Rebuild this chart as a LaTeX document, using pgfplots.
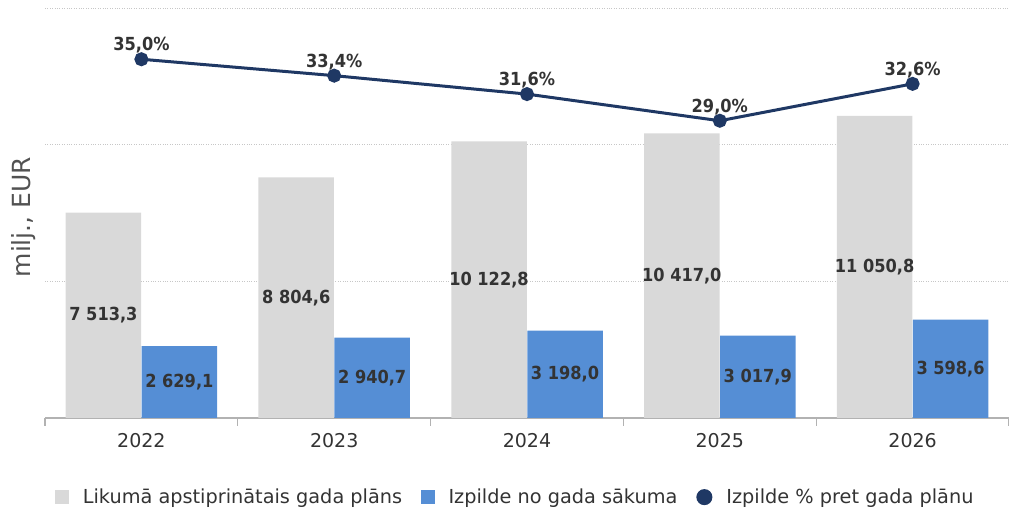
\documentclass[border=0pt]{standalone}
\usepackage{fontspec}
\setmainfont{DejaVu Sans}
\newfontfamily\labfont{DejaVu Sans Condensed Bold}
\usepackage{pgfplots}
\pgfplotsset{compat=1.18}
\usepackage{pgfplotstable}

\definecolor{plan}{HTML}{D9D9D9}
\definecolor{izp}{HTML}{558ED5}
\definecolor{pct}{HTML}{1F3864}
\definecolor{txt}{HTML}{333333}

\pgfplotstableread{
x plan izp pct
0 7513.3 2629.1 35.0
1 8804.6 2940.7 33.4
2 10122.8 3198.0 31.6
3 10417.0 3017.9 29.0
4 11050.8 3598.6 32.6
}\data

\pgfplotsset{
  /pgf/number format/.cd, use comma, 1000 sep={\ }, fixed, fixed zerofill, precision=1, assume math mode=true,
}

\begin{document}
\begin{tikzpicture}
\path[use as bounding box] (0,0) rectangle (1009pt,511pt);
\begin{axis}[
  at={(45pt,93pt)}, anchor=south west,
  scale only axis, width=964pt, height=410pt,
  xmin=-0.5, xmax=4.5, ymin=0, ymax=15000,
  axis x line*=bottom, axis y line*=left,
  y axis line style={draw=none},
  x axis line style={draw=black!30, line width=1.2pt},
  xtick={0,1,2,3,4}, xticklabels={2022,2023,2024,2025,2026},
  major tick length=0pt,
  minor xtick={-0.5,0.5,1.5,2.5,3.5,4.5},
  minor tick length=8pt, tick align=outside,
  minor tick style={draw=black!30, line width=1.2pt},
  xticklabel style={font=\fontsize{19}{22}\selectfont, text=txt, yshift=-12pt},
  ytick={5000,10000,15000}, yticklabel=\empty,
  ymajorgrids, major grid style={draw=black!22, dotted, line width=0.8pt},
  ylabel={milj., EUR},
  ylabel style={at={(axis description cs:-0.0218,0.49)}, anchor=center, font=\fontsize{25}{30}\selectfont, text=txt!85},
  clip=false,
]
\addplot[ybar, bar width=75.5pt, bar shift=-38pt, fill=plan, draw=none] table[x=x,y=plan]{\data};
\addplot[ybar, bar width=75.5pt, bar shift=38pt, fill=izp, draw=none] table[x=x,y=izp]{\data};
\addplot[draw=none, mark=none, point meta=explicit, nodes near coords={\pgfmathprintnumber{\pgfplotspointmeta}},
  every node near coord/.append style={anchor=center, font=\labfont\fontsize{18}{21}\selectfont, text=txt}]
  table[x expr=\thisrow{x}-0.197, y expr=\thisrow{plan}/2, meta=plan]{\data};
\addplot[draw=none, mark=none, point meta=explicit, nodes near coords={\pgfmathprintnumber{\pgfplotspointmeta}},
  every node near coord/.append style={anchor=center, font=\labfont\fontsize{18}{21}\selectfont, text=txt}]
  table[x expr=\thisrow{x}+0.197, y expr=\thisrow{izp}/2, meta=izp]{\data};
\end{axis}
\begin{axis}[
  at={(45pt,93pt)}, anchor=south west,
  scale only axis, width=964pt, height=410pt,
  xmin=-0.5, xmax=4.5, ymin=0, ymax=40,
  hide axis, clip=false,
  legend style={at={(0.488,-0.193)}, anchor=center, draw=none, fill=none, legend columns=3,
    font=\fontsize{19.3}{22}\selectfont, text=txt,
    /tikz/every odd column/.append style={column sep=12pt},
    /tikz/every even column/.append style={column sep=17pt}},
  legend cell align=left,
]
\addlegendimage{legend image code/.code={\fill[plan] (0pt,-6.5pt) rectangle (13pt,6.5pt);}}
\addlegendentry{Likumā apstiprinātais gada plāns}
\addlegendimage{legend image code/.code={\fill[izp] (0pt,-6.5pt) rectangle (13pt,6.5pt);}}
\addlegendentry{Izpilde no gada sākuma}
\addplot[pct, line width=3pt, mark=*, mark size=5.5pt, point meta=explicit,
  nodes near coords={\pgfmathprintnumber{\pgfplotspointmeta}\%},
  every node near coord/.append style={anchor=south, font=\labfont\fontsize{18}{21}\selectfont, text=txt, yshift=1pt},
  legend image code/.code={\fill[pct] (6.5pt,0pt) circle (6.5pt);}]
  table[x=x, y=pct, meta=pct]{\data};
\addlegendentry{Izpilde \% pret gada plānu}
\end{axis}
\end{tikzpicture}
\end{document}
